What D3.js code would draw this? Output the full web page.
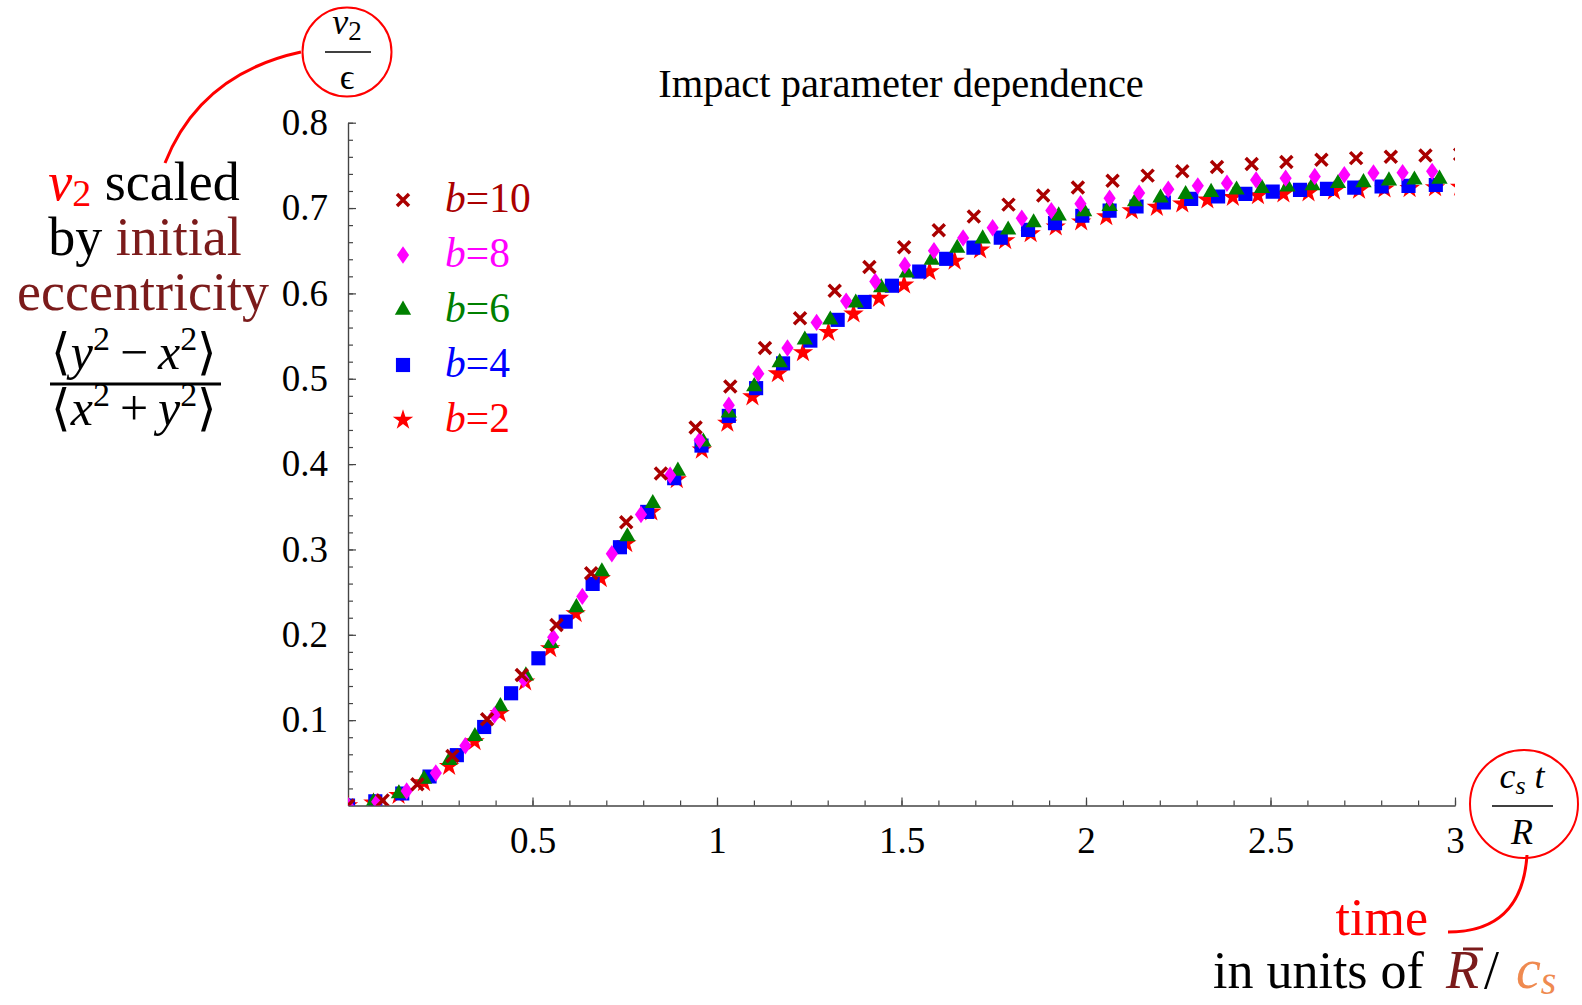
<!DOCTYPE html>
<html>
<head>
<meta charset="utf-8">
<script src="https://cdn.jsdelivr.net/npm/d3@7"></script>
<style>
body { margin: 0; background: #fff; }
svg { display: block; }
text { font-family: "Liberation Serif", "Times New Roman", serif; }
</style>
</head>
<body>
<svg id="chart" width="1582" height="1005"></svg>
<script>
// legend order, top to bottom
const labels = ['10', '8', '6', '4', '2'];
const colors = ['#aa0000', '#ff00ff', '#008000', '#0000ff', '#ff0000'];

const xTicks = [0.5, 1, 1.5, 2, 2.5, 3];
const yTicks = [0.1, 0.2, 0.3, 0.4, 0.5, 0.6, 0.7, 0.8];

// b=10
const t10 = [0, 0.094, 0.188, 0.283, 0.377, 0.471, 0.565, 0.659, 0.754, 0.848, 0.942, 1.036, 1.130, 1.225, 1.319, 1.413, 1.507,
  1.601, 1.696, 1.790, 1.884, 1.978, 2.072, 2.167, 2.261, 2.355, 2.449, 2.543, 2.638, 2.732, 2.826, 2.920, 3.014];
const v10 = [0, 0.006, 0.025, 0.058, 0.101, 0.153, 0.2115, 0.272, 0.332, 0.389, 0.443, 0.491, 0.536, 0.571, 0.603, 0.631, 0.654,
  0.674, 0.690, 0.704, 0.7146, 0.724, 0.732, 0.738, 0.743, 0.748, 0.7515, 0.754, 0.7565, 0.7585, 0.760, 0.7615, 0.763];
// b=8
const t8 = [0, 0.079, 0.159, 0.238, 0.318, 0.397, 0.476, 0.556, 0.635, 0.715, 0.794, 0.873, 0.953, 1.032, 1.112, 1.191, 1.270,
  1.350, 1.429, 1.509, 1.588, 1.667, 1.747, 1.826, 1.906, 1.985, 2.064, 2.144, 2.223, 2.303, 2.382, 2.461, 2.541, 2.620, 2.700,
  2.779, 2.858, 2.938];
const v8 = [0, 0.0045, 0.017, 0.038, 0.070, 0.106, 0.148, 0.197, 0.245, 0.295, 0.341, 0.387, 0.428, 0.469, 0.506, 0.536, 0.566,
  0.591, 0.614, 0.633, 0.650, 0.665, 0.677, 0.688, 0.697, 0.705, 0.7115, 0.7175, 0.722, 0.726, 0.729, 0.733, 0.735, 0.737, 0.739,
  0.741, 0.7415, 0.743];
// b=6
const t6 = [0, 0.069, 0.138, 0.206, 0.275, 0.344, 0.413, 0.482, 0.550, 0.619, 0.688, 0.757, 0.826, 0.894, 0.963, 1.032, 1.101,
  1.170, 1.238, 1.307, 1.376, 1.445, 1.514, 1.582, 1.651, 1.720, 1.789, 1.858, 1.926, 1.995, 2.064, 2.133, 2.202, 2.270, 2.339,
  2.408, 2.477, 2.546, 2.614, 2.683, 2.752, 2.821, 2.890, 2.958];
const v6 = [0, 0.004, 0.014, 0.031, 0.053, 0.081, 0.116, 0.152, 0.190, 0.232, 0.274, 0.315, 0.354, 0.392, 0.426, 0.460, 0.491,
  0.519, 0.5455, 0.569, 0.589, 0.607, 0.624, 0.639, 0.653, 0.664, 0.6745, 0.683, 0.691, 0.696, 0.702, 0.7076, 0.712, 0.716, 0.7186,
  0.7213, 0.723, 0.725, 0.7265, 0.729, 0.730, 0.732, 0.733, 0.734];
// b=4
const t4 = [0, 0.074, 0.147, 0.221, 0.295, 0.369, 0.442, 0.516, 0.590, 0.663, 0.737, 0.811, 0.884, 0.958, 1.032, 1.106, 1.179,
  1.253, 1.327, 1.400, 1.474, 1.548, 1.621, 1.695, 1.769, 1.843, 1.916, 1.990, 2.064, 2.137, 2.211, 2.285, 2.358, 2.432, 2.506,
  2.580, 2.653, 2.727, 2.801, 2.874, 2.948];
const v4 = [0, 0.005, 0.014, 0.034, 0.059, 0.092, 0.1315, 0.1725, 0.2154, 0.2596, 0.3026, 0.344, 0.3835, 0.4217, 0.4565, 0.489, 0.518,
  0.5447, 0.569, 0.590, 0.609, 0.6256, 0.6405, 0.6537, 0.6654, 0.6745, 0.6823, 0.691, 0.697, 0.7018, 0.7065, 0.7108, 0.7135, 0.7166,
  0.7193, 0.7213, 0.7225, 0.724, 0.7252, 0.726, 0.727];
// b=2
const t2 = [0, 0.069, 0.137, 0.206, 0.274, 0.343, 0.411, 0.480, 0.548, 0.617, 0.685, 0.754, 0.822, 0.891, 0.959, 1.028, 1.096,
  1.165, 1.233, 1.302, 1.370, 1.439, 1.507, 1.576, 1.644, 1.713, 1.781, 1.850, 1.918, 1.987, 2.055, 2.124, 2.192, 2.261, 2.329,
  2.398, 2.466, 2.535, 2.603, 2.672, 2.740, 2.809, 2.877, 2.946, 3.014];
const v2 = [0, 0.003, 0.012, 0.027, 0.046, 0.075, 0.108, 0.145, 0.184, 0.225, 0.266, 0.307, 0.344, 0.382, 0.4166, 0.448, 0.479,
  0.506, 0.5307, 0.5545, 0.576, 0.5944, 0.610, 0.6256, 0.638, 0.651, 0.662, 0.670, 0.678, 0.684, 0.690, 0.697, 0.701, 0.705, 0.7096,
  0.7127, 0.7146, 0.7166, 0.718, 0.720, 0.721, 0.7225, 0.723, 0.724, 0.7245];

const times = [t10, t8, t6, t4, t2];
const values = [v10, v8, v6, v4, v2];

// marker shapes
var symX = { draw: function(c, s) { var r = Math.sqrt(s) / 2;
  c.moveTo(-r, -r); c.lineTo(r, r); c.moveTo(-r, r); c.lineTo(r, -r); } };
var symDiamond = { draw: function(c, s) { var w = Math.sqrt(s) * 0.42, h = Math.sqrt(s) * 0.6;
  c.moveTo(0, -h); c.lineTo(w, 0); c.lineTo(0, h); c.lineTo(-w, 0); c.closePath(); } };
var markers = [
  { type: symX, size: 144, stroke: true },
  { type: symDiamond, size: 210 },
  { type: d3.symbolTriangle, size: 115 },
  { type: d3.symbolSquare, size: 200 },
  { type: d3.symbolStar, size: 130 }
];

var svg = d3.select('#chart');
var x = d3.scaleLinear().domain([0, 3]).range([348, 1455]);
var y = d3.scaleLinear().domain([0, 0.8]).range([805.5, 122.7]);
var axisColor = '#444';

svg.append('defs').append('clipPath').attr('id', 'plotclip')
  .append('rect')
  .attr('x', x(0)).attr('y', y(0.8))
  .attr('width', x(3) - x(0)).attr('height', y(0) - y(0.8));

// minor ticks
svg.append('g').attr('transform', 'translate(0,' + y(0) + ')')
  .call(d3.axisBottom(x).tickValues(d3.range(1, 31).map(i => i / 10)).tickSizeInner(-5).tickSizeOuter(0).tickFormat(''));
svg.append('g').attr('transform', 'translate(' + x(0) + ',0)')
  .call(d3.axisLeft(y).tickValues(d3.range(1, 41).map(i => i / 50)).tickSizeInner(-5).tickSizeOuter(0).tickFormat(''));

// major ticks with labels
var xa = svg.append('g').attr('transform', 'translate(0,' + y(0) + ')')
  .call(d3.axisBottom(x).tickValues(xTicks).tickSizeInner(-8).tickSizeOuter(0).tickPadding(21).tickFormat(d => String(d)));
var ya = svg.append('g').attr('transform', 'translate(' + x(0) + ',0)')
  .call(d3.axisLeft(y).tickValues(yTicks).tickSizeInner(-8).tickSizeOuter(0).tickPadding(20).tickFormat(d => String(d)));

svg.selectAll('.domain, .tick line').attr('stroke', axisColor).attr('stroke-width', 1.2);
[xa, ya].forEach(function(a) {
  a.attr('font-family', '"Liberation Serif", "Times New Roman", serif').attr('font-size', 37);
  a.selectAll('text').attr('fill', '#000');
});

// data, b=2 drawn first so b=10 ends on top
var plot = svg.append('g').attr('clip-path', 'url(#plotclip)');
for (var s = labels.length - 1; s >= 0; s--) {
  var m = markers[s];
  var sym = d3.symbol().type(m.type).size(m.size);
  var pts = times[s].map((t, i) => [t, values[s][i]]);
  plot.append('g').selectAll('path')
    .data(pts)
    .enter()
    .append('path')
    .attr('transform', d => 'translate(' + x(d[0]) + ',' + y(d[1]) + ')')
    .attr('d', sym)
    .attr('fill', m.stroke ? 'none' : colors[s])
    .attr('stroke', m.stroke ? colors[s] : 'none')
    .attr('stroke-width', m.stroke ? 3.5 : 0);
}

// legend
labels.forEach(function(lab, i) {
  var ry = 200 + i * 55, m = markers[i];
  svg.append('path')
    .attr('transform', 'translate(403,' + ry + ')')
    .attr('d', d3.symbol().type(m.type).size(m.size))
    .attr('fill', m.stroke ? 'none' : colors[i])
    .attr('stroke', m.stroke ? colors[i] : 'none')
    .attr('stroke-width', m.stroke ? 3.5 : 0);
  var t = svg.append('text').attr('x', 445).attr('y', ry + 12).attr('font-size', 41.5).attr('fill', colors[i]);
  t.append('tspan').attr('font-style', 'italic').text('b');
  t.append('tspan').text('=' + lab);
});

// title
svg.append('text').attr('x', 901).attr('y', 97).attr('text-anchor', 'middle')
  .attr('font-size', 40.5).text('Impact parameter dependence');

// left annotation
var darkRed = '#7b1b1b';
var l1 = svg.append('text').attr('x', 144).attr('y', 200).attr('text-anchor', 'middle').attr('font-size', 54);
l1.append('tspan').attr('fill', '#ff0000').attr('font-style', 'italic').text('v');
l1.append('tspan').attr('fill', '#ff0000').attr('font-size', 38).attr('dy', 6).text('2');
l1.append('tspan').attr('dy', -6).text(' scaled');
var l2 = svg.append('text').attr('x', 145).attr('y', 255).attr('text-anchor', 'middle').attr('font-size', 54);
l2.append('tspan').text('by ');
l2.append('tspan').attr('fill', darkRed).text('initial');
svg.append('text').attr('x', 143).attr('y', 310).attr('text-anchor', 'middle').attr('font-size', 54)
  .attr('fill', darkRed).text('eccentricity');

function fracPart(yy, a, op, b) {
  var t = svg.append('text').attr('x', 134).attr('y', yy).attr('text-anchor', 'middle').attr('font-size', 50);
  t.append('tspan').text('\u27E8');
  t.append('tspan').attr('font-style', 'italic').text(a);
  t.append('tspan').attr('font-size', 34).attr('dy', -19).text('2');
  t.append('tspan').attr('dy', 19).text('\u2009' + op + '\u2009');
  t.append('tspan').attr('font-style', 'italic').text(b);
  t.append('tspan').attr('font-size', 34).attr('dy', -19).text('2');
  t.append('tspan').attr('dy', 19).text('\u27E9');
}
fracPart(369, 'y', '\u2212', 'x');
svg.append('line').attr('x1', 50).attr('x2', 221).attr('y1', 384).attr('y2', 384).attr('stroke', '#000').attr('stroke-width', 3);
fracPart(425, 'x', '+', 'y');

// circled v2/eps
svg.append('circle').attr('cx', 347).attr('cy', 52).attr('r', 44.5).attr('fill', 'none').attr('stroke', '#ff0000').attr('stroke-width', 2);
var c1 = svg.append('text').attr('x', 347).attr('y', 34).attr('text-anchor', 'middle').attr('font-size', 36);
c1.append('tspan').attr('font-style', 'italic').text('v');
c1.append('tspan').attr('font-size', 27).attr('dy', 6).text('2');
svg.append('line').attr('x1', 325).attr('x2', 371).attr('y1', 52).attr('y2', 52).attr('stroke', '#000').attr('stroke-width', 1.5);
svg.append('text').attr('x', 347).attr('y', 89).attr('text-anchor', 'middle').attr('font-size', 36).text('\u03F5');
svg.append('path').attr('d', 'M301,52 Q200,74 165,163').attr('fill', 'none').attr('stroke', '#ff0000').attr('stroke-width', 3);

// circled cs t / R
svg.append('circle').attr('cx', 1524).attr('cy', 804).attr('r', 54).attr('fill', 'none').attr('stroke', '#ff0000').attr('stroke-width', 2);
var c2 = svg.append('text').attr('x', 1522).attr('y', 788).attr('text-anchor', 'middle').attr('font-size', 36).attr('font-style', 'italic');
c2.append('tspan').text('c');
c2.append('tspan').attr('font-size', 26).attr('dy', 6).text('s');
c2.append('tspan').attr('dy', -6).text(' t');
svg.append('line').attr('x1', 1492).attr('x2', 1553).attr('y1', 806).attr('y2', 806).attr('stroke', '#000').attr('stroke-width', 1.5);
svg.append('text').attr('x', 1522).attr('y', 844).attr('text-anchor', 'middle').attr('font-size', 36).attr('font-style', 'italic').text('R');
svg.append('path').attr('d', 'M1527,855 Q1522,932 1448,932').attr('fill', 'none').attr('stroke', '#ff0000').attr('stroke-width', 3);

// bottom right annotation
svg.append('text').attr('x', 1428).attr('y', 935).attr('text-anchor', 'end').attr('font-size', 52).attr('fill', '#ff0000').text('time');
svg.append('text').attr('x', 1213).attr('y', 988).attr('font-size', 52).text('in units of');
svg.append('text').attr('x', 1446).attr('y', 988).attr('font-size', 54).attr('font-style', 'italic').attr('fill', darkRed).text('R');
svg.append('line').attr('x1', 1463).attr('x2', 1483).attr('y1', 949).attr('y2', 949).attr('stroke', darkRed).attr('stroke-width', 3);
svg.append('text').attr('x', 1484).attr('y', 988).attr('font-size', 54).text('/');
var cs = svg.append('text').attr('x', 1516).attr('y', 988).attr('font-size', 56).attr('font-style', 'italic').attr('fill', '#ef8a50');
cs.append('tspan').text('c');
cs.append('tspan').attr('font-size', 40).attr('dy', 6).text('s');
</script>
</body>
</html>
